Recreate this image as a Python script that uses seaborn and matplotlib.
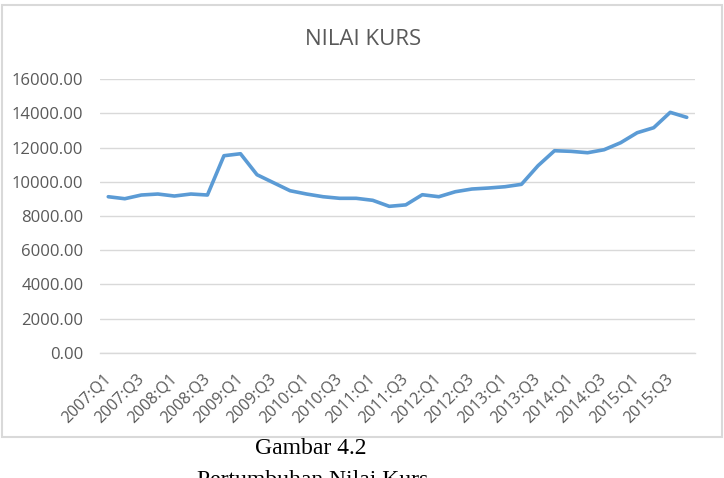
import matplotlib
matplotlib.use("Agg")
import matplotlib.pyplot as plt
import seaborn as sns
import pandas as pd
from matplotlib.patches import Rectangle

# ---- data ----
quarters = [f"{y}:Q{q}" for y in range(2007, 2016) for q in range(1, 5)]
kurs = [9128, 9011, 9228, 9286, 9169, 9286, 9228, 11527, 11644, 10415,
        9947, 9479, 9286, 9128, 9035, 9035, 8918, 8566, 8651, 9245,
        9128, 9421, 9579, 9637, 9713, 9853, 10942, 11820, 11784, 11703,
        11878, 12288, 12873, 13166, 14066, 13774]
y_ticks = [0, 2000, 4000, 6000, 8000, 10000, 12000, 14000, 16000]
title = "NILAI KURS"
caption1 = "Gambar 4.2"
caption2 = "Pertumbuhan Nilai Kurs"

df = pd.DataFrame({"idx": range(len(quarters)), "quarter": quarters, "kurs": kurs})

sns.set_theme(style="white")
plt.rcParams["font.family"] = ["Open Sans", "DejaVu Sans"]

fig = plt.figure(figsize=(7.24, 4.78), dpi=100)
W, H = 724, 478
ax = fig.add_axes([100 / W, (H - 352.7) / H, 595 / W, (352.7 - 79.3) / H])

sns.lineplot(data=df, x="idx", y="kurs", ax=ax, color="#5B9BD5", linewidth=2.6,
             solid_joinstyle="round", solid_capstyle="round")

ax.set_xlim(-0.5, len(quarters) - 0.5)
ax.set_ylim(0, 16000)
ax.set_yticks(y_ticks)
ax.set_yticklabels([f"{v:.2f}" for v in y_ticks], color="#595959", fontsize=12)
ax.yaxis.grid(True, color="#D9D9D9", linewidth=1.0)
ax.set_axisbelow(True)
ax.tick_params(axis="y", length=0, pad=12)

xt = list(range(0, len(quarters), 2))
ax.set_xticks(xt)
ax.set_xticklabels([quarters[i] for i in xt], rotation=45, ha="right", va="center",
                   rotation_mode="anchor", color="#595959", fontsize=11.5)
ax.tick_params(axis="x", length=0, pad=17)
ax.set_xlabel("")
ax.set_ylabel("")
for s in ["top", "right", "left"]:
    ax.spines[s].set_visible(False)
ax.spines["bottom"].set_color("#D9D9D9")
ax.spines["bottom"].set_linewidth(1.0)

# chart border
fig.patches.append(Rectangle((2 / W, (H - 437) / H), 720 / W, 432 / H,
                             transform=fig.transFigure, fill=False,
                             edgecolor="#D9D9D9", linewidth=1.5))

fig.text(363 / W, 1 - 45 / H, title, ha="center", va="baseline",
         fontsize=16, color="#595959")
fig.text(311 / W, 1 - 454 / H, caption1, ha="center", va="baseline",
         fontsize=17, color="black", family="Liberation Serif")
fig.text(313 / W, 1 - 486 / H, caption2, ha="center", va="baseline",
         fontsize=17, color="black", family="Liberation Serif")

fig.savefig("out.png", dpi=100)
